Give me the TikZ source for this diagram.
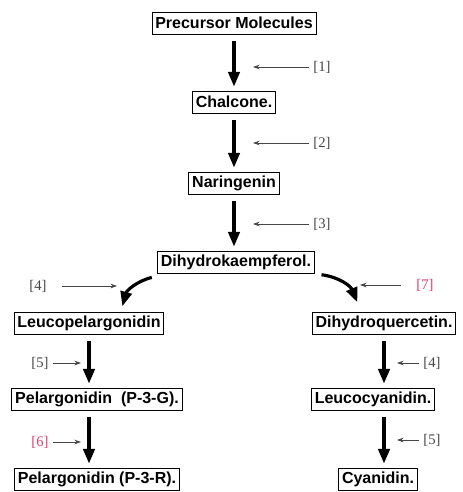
\documentclass[tikz,border=0pt]{standalone}
\usepackage{fontspec}
\setmainfont{Liberation Sans}
\newfontfamily\labfont{Liberation Serif}
\usetikzlibrary{arrows.meta}
\definecolor{labgray}{RGB}{70,70,70}
\definecolor{labpink}{RGB}{225,60,110}
\tikzset{
  cmpd/.style={draw,semithick,font=\fontsize{12}{14}\selectfont\bfseries,inner sep=2.5pt,minimum height=16.5pt},
  mainarr/.style={-{Triangle[length=11pt,width=8.5pt]},line width=2.4pt,shorten <=5pt,shorten >=3pt},
  enzarr/.style={-{Stealth[length=5pt,width=3.5pt]},semithick,labgray},
  enz/.style={font=\labfont\fontsize{11}{13}\selectfont,text=labgray},
}
\begin{document}
\begin{tikzpicture}[x=0.75pt,y=-0.75pt]
      \useasboundingbox (0,0) rectangle (462,492);
      % compounds
      \node[cmpd] (pm) at (234,23) {Precursor Molecules};
      \node[cmpd] (ch) at (234,102) {Chalcone.};
      \node[cmpd] (nr) at (234,183) {Naringenin};
      \node[cmpd] (dk) at (236,262) {Dihydrokaempferol.};
      \node[cmpd] (lp) at (89,323) {Leucopelargonidin};
      \node[cmpd] (dq) at (384,323) {Dihydroquercetin.};
      \node[cmpd] (pg) at (97,399) {Pelargonidin\ \ (P-3-G).};
      \node[cmpd] (lc) at (373,399) {Leucocyanidin.};
      \node[cmpd] (pr) at (97,479) {Pelargonidin (P-3-R).};
      \node[cmpd] (cy) at (378,479) {Cyanidin.};
      % enzyme labels
      \node[enz] (e1) at (322,67) {[1]};
      \node[enz] (e2) at (322,143) {[2]};
      \node[enz] (e3) at (322,224) {[3]};
      \node[enz] (e4a) at (38,286) {[4]};
      \node[enz,text=labpink] (e7) at (425,285) {[7]};
      \node[enz] (e5a) at (40,363) {[5]};
      \node[enz,text=labpink] (e6) at (40,442) {[6]};
      \node[enz] (e4b) at (432,363) {[4]};
      \node[enz] (e5b) at (432,440) {[5]};
      \coordinate (t1) at (253,67);
      \coordinate (t2) at (253,143);
      \coordinate (t3) at (253,224);
      \coordinate (t4a) at (117,286);
      \coordinate (t7) at (360,285);
      \coordinate (t5a) at (81,363);
      \coordinate (t6) at (81,442);
      \coordinate (t4b) at (397,363);
      \coordinate (t5b) at (397,440);
      % pathway
      \draw[mainarr] (pm.south) -- (pm.south |- ch.north);
      \draw[mainarr] (ch.south) -- (ch.south |- nr.north);
      \draw[mainarr] (nr.south) -- (nr.south |- dk.north);
      \draw[mainarr,shorten <=0pt,shorten >=0pt] ([xshift=-4pt,yshift=-3pt]dk.south west) to[bend right=30] ([xshift=25pt,yshift=4pt]lp.north);
      \draw[mainarr,shorten <=0pt,shorten >=0pt] ([xshift=5pt,yshift=-1pt]dk.south east) to[bend left=30] ([xshift=-20pt,yshift=7pt]dq.north);
      \draw[mainarr] (lp.south) -- (lp.south |- pg.north);
      \draw[mainarr] (lp.south |- pg.south) -- (lp.south |- pr.north);
      \draw[mainarr] (dq.south) -- (dq.south |- lc.north);
      \draw[mainarr] (dq.south |- lc.south) -- (dq.south |- cy.north);
      % enzyme arrows
      \draw[enzarr] (e1) -- (t1);
      \draw[enzarr] (e2) -- (t2);
      \draw[enzarr] (e3) -- (t3);
      \draw[enzarr,shorten <=8pt] (e4a) -- (t4a);
      \draw[enzarr,shorten <=8pt] (e7) -- (t7);
      \draw[enzarr] (e5a) -- (t5a);
      \draw[enzarr] (e6) -- (t6);
      \draw[enzarr] (e4b) -- (t4b);
      \draw[enzarr] (e5b) -- (t5b);
\end{tikzpicture}
\end{document}
